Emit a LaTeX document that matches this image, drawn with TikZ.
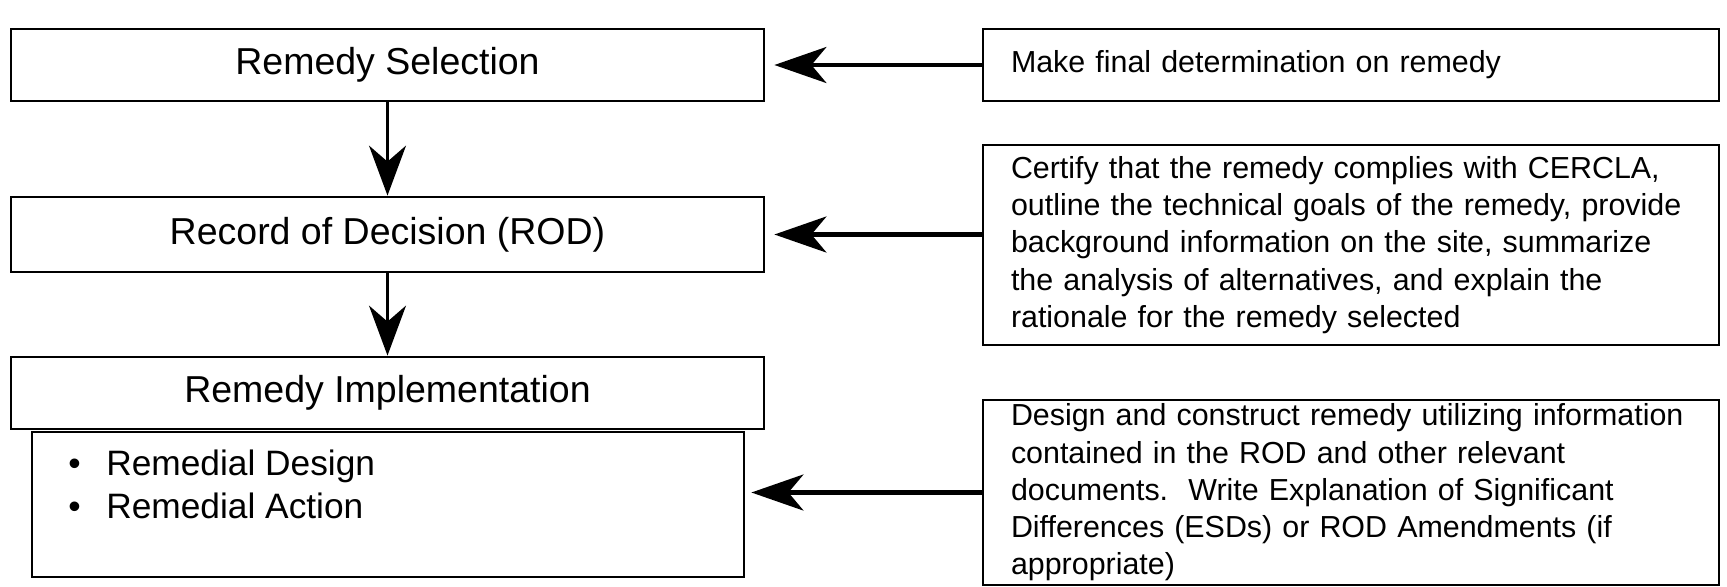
\documentclass[tikz,border=0pt]{standalone}
\usepackage{fontspec}
\setmainfont{Liberation Sans}
\usetikzlibrary{arrows.meta}
\hyphenpenalty=10000

\begin{document}
\begin{tikzpicture}[x=0.5pt,y=0.5pt,
    stepbox/.style={draw,line width=1.4pt,minimum width=376.5pt,inner sep=0pt,
      font=\fontsize{18.75}{22}\selectfont},
    notebox/.style={draw,line width=1.4pt,text width=340pt,inner xsep=14pt,inner ysep=2pt,
      align=left,font=\fontsize{15.2}{18.6}\selectfont},
    flow/.style={-{Stealth[length=25pt,width=18.5pt,inset=8pt]},line width=1.2pt},
    feed/.style={-{Stealth[length=26pt,width=18pt,inset=7.5pt]},line width=2.2pt}]
  \useasboundingbox (0,0) rectangle (1727,586);

  % left column
  \node[stepbox,minimum height=36pt] (sel) at (387.5,521) {Remedy Selection};
  \node[stepbox,minimum height=37.5pt] (rod) at (387.5,351.5) {Record of Decision (ROD)};
  \node[draw,line width=1.4pt,minimum width=356pt,minimum height=72.5pt] (list) at (388,81.5) {};
  \node[stepbox,minimum height=36pt] (impl) at (387.5,193) {Remedy Implementation};
  \node[anchor=west,align=left,inner sep=0pt,font=\fontsize{17.65}{21.5}\selectfont] (items) at (68,101.5)
    {\textbullet\hspace{12.8pt}Remedial Design\\ \textbullet\hspace{12.8pt}Remedial Action};

  % right column
  \node[notebox,minimum height=36pt] (fin) at (1351,521) {Make final determination on remedy};
  \node[notebox,minimum height=100pt] (cert) at (1351,341)
    {Certify that the remedy complies with CERCLA,\\ outline the technical goals of the remedy, provide\\
     background information on the site, summarize\\ the analysis of alternatives, and explain the\\
     rationale for the remedy selected};
  \node[notebox,minimum height=92.5pt] (des) at (1351,93.5)
    {Design and construct remedy utilizing information\\ contained in the ROD and other relevant\\
     documents.\ \ Write Explanation of Significant\\ Differences (ESDs) or ROD Amendments (if\\
     appropriate)};

  \draw[flow] (sel) -- (rod);
  \draw[flow] (rod) -- (impl);
  \draw[feed,shorten >=4.5pt] (fin) -- (sel);
  \draw[feed,shorten >=4.5pt] (cert.west |- rod) -- (rod);
  \draw[feed,shorten >=3pt] (des) -- (des -| list.east);
\end{tikzpicture}
\end{document}
